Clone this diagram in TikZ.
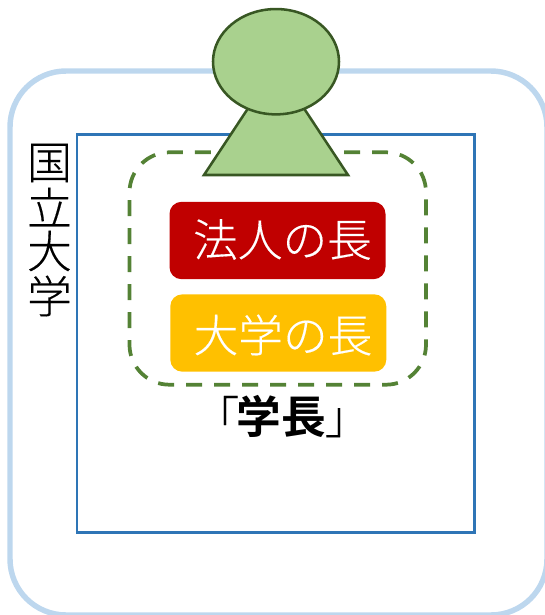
\documentclass[tikz,border=0pt]{standalone}
\usetikzlibrary{shapes.geometric}
\usepackage{fontspec}
\setmainfont[FakeBold=0.3]{Noto Sans CJK JP Light}
\newfontfamily\cjkbold{Noto Sans CJK JP Bold}
\definecolor{outerblue}{RGB}{189,215,238}
\definecolor{innerblue}{RGB}{46,117,182}
\definecolor{dashgreen}{RGB}{84,130,53}
\definecolor{figfill}{RGB}{169,209,142}
\definecolor{figline}{RGB}{56,87,35}
\definecolor{lawred}{RGB}{192,0,0}
\definecolor{uniyellow}{RGB}{255,192,0}
\tikzset{
 figshape/.style={draw=figline,fill=figfill,line width=1.9pt},
 pill/.style={rounded corners=9pt,minimum width=162pt,minimum height=58pt,inner sep=0pt},
 bigtext/.style={inner sep=0pt,font=\fontsize{33.5pt}{36pt}\selectfont},
 pilltext/.style={bigtext,text=white},
}
\begin{document}
\begin{tikzpicture}[x=0.75pt,y=-0.75pt]
\useasboundingbox (0,0) rectangle (545,615);
\begin{scope}
\clip (0,0) rectangle (545,615);
\draw[outerblue,line width=4.1pt,rounded corners=42pt] (10,71) rectangle (547,615);
\end{scope}
\draw[innerblue,line width=1.8pt] (77,134.5) rectangle (474.5,532.3);
\node[bigtext] (koku) at (49.5,163) {国};
\node[bigtext] (ritsu) at (49.5,207) {立};
\node[bigtext] (dai) at (49.5,251) {大};
\node[bigtext] (gaku) at (49.5,296) {学};
\draw[dashgreen,line width=2.8pt,dash pattern=on 12pt off 9pt,rounded corners=30pt] (344,152.3) -- (426,152.3) -- (426,384.7) -- (129.5,384.7) -- (129.5,152.3) -- (250,152.3);
\draw[figshape,miter limit=10] (204,175) -- (276,66) -- (348,175) -- cycle;
\node[figshape,ellipse,minimum width=94.5pt,minimum height=79pt,inner sep=0pt] (head) at (276,61.7) {};
\node[pill,fill=lawred] (law) at (277.5,240.5) {};
\node[pill,fill=uniyellow] (uni) at (278.3,333) {};
\node[pilltext] (lawtext) at (282.5,239.5) {法人の長};
\node[pilltext] (unitext) at (283,335) {大学の長};
\node[bigtext] (gakucho) at (282,416.5) {「\kern-2pt{\cjkbold 学長}\kern-1pt」};
\end{tikzpicture}
\end{document}
